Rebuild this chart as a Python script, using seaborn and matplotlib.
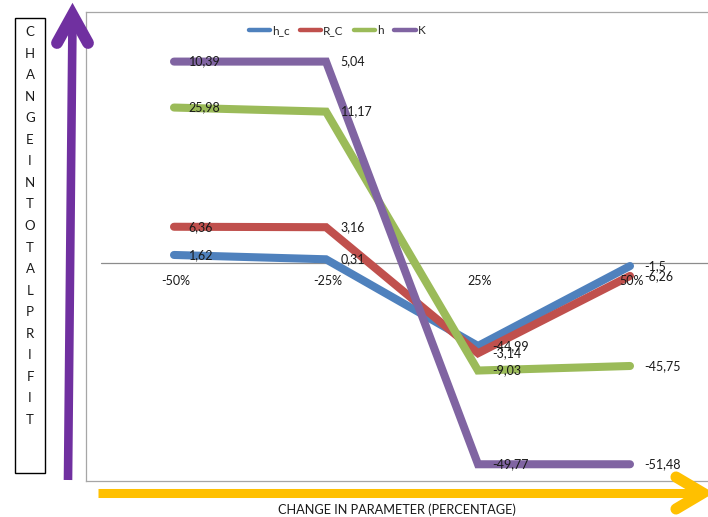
import matplotlib
matplotlib.use("Agg")
import matplotlib.pyplot as plt
from matplotlib.lines import Line2D
from matplotlib.patches import Rectangle
import seaborn as sns
import pandas as pd

# Parameter changes on the category axis
categories = ["-50%", "-25%", "25%", "50%"]

# Plotted change in total profit for each parameter
h_c = [1.7, 0.75, -18.3, -0.73]
R_C = [7.9, 7.8, -19.9, -2.9]
h = [34.1, 33.2, -23.7, -22.7]
K = [44.2, 44.2, -44.3, -44.3]

# Data label texts shown beside each point
h_c_labels = ["1,62", "0,31", "-44,99", "-1,5"]
R_C_labels = ["6,36", "3,16", "-3,14", "-6,26"]
h_labels = ["25,98", "11,17", "-9,03", "-45,75"]
K_labels = ["10,39", "5,04", "-49,77", "-51,48"]

series_names = ["h_c", "R_C", "h", "K"]
series_values = [h_c, R_C, h, K]
series_labels = [h_c_labels, R_C_labels, h_labels, K_labels]
colors = ["#4F81BD", "#C0504D", "#9BBB59", "#8064A2"]

rows = []
for name, vals in zip(series_names, series_values):
    for i, v in enumerate(vals):
        rows.append({"pos": i, "category": categories[i], "series": name, "value": v})
df = pd.DataFrame(rows)

sns.set_theme(style="white")
plt.rcParams["font.family"] = ["Lato", "DejaVu Sans"]

W, H = 708, 517
fig = plt.figure(figsize=(W / 100, H / 100), dpi=100)
fig.patch.set_facecolor("white")


def fx(x):
    return x / W


def fy(y):
    return 1 - y / H


ax = fig.add_axes([fx(86), fy(481), fx(640), (481 - 12) / H])
ax.set_facecolor("white")

sns.lineplot(data=df, x="pos", y="value", hue="series", hue_order=series_names,
             palette=colors, linewidth=5.8, sort=False, legend=False, ax=ax,
             solid_capstyle="round", solid_joinstyle="miter")

px_per_unit = 4.55
ax.set_ylim(-(481 - 262.7) / px_per_unit, (262.7 - 12) / px_per_unit)
ax.set_xlim(-88 / 152, -88 / 152 + 640 / 152)

# horizontal zero axis
ax.plot([-73 / 152, 5], [0, 0], color="#8C8C8C", linewidth=0.9, zorder=1)

for sp in ["left", "top", "bottom"]:
    ax.spines[sp].set_color("#A6A6A6")
    ax.spines[sp].set_linewidth(0.9)
ax.spines["right"].set_visible(False)
ax.set_xticks([])
ax.set_yticks([])
ax.set_xlabel("")
ax.set_ylabel("")

# category labels next to the zero axis
for i, c in enumerate(categories):
    ax.annotate(c, (i, 0), xytext=(1, -13), textcoords="offset points",
                ha="center", va="center", fontsize=9, color="#1a1a1a")

# data labels
for vals, labs in zip(series_values, series_labels):
    for i, (v, t) in enumerate(zip(vals, labs)):
        ax.annotate(t, (i, v), xytext=(10.5, 0), textcoords="offset points",
                    ha="left", va="center", fontsize=9, color="#1a1a1a", zorder=5)

# legend
handles = [Line2D([0], [0], color=c, linewidth=3.2, solid_capstyle="round") for c in colors]
ax.legend(handles, series_names, loc="center", bbox_to_anchor=(fx(337), fy(31)),
          bbox_transform=fig.transFigure, ncol=4, frameon=False, fontsize=8.5,
          handlelength=1.8, handletextpad=0.15, columnspacing=0.9)

# vertical title box
fig.add_artist(Rectangle((fx(15), fy(473)), fx(30), (473 - 18) / H,
                         transform=fig.transFigure, fill=False,
                         edgecolor="black", linewidth=1.0))
letters = "CHANGEINTOTALPRIFIT"
for k, ch in enumerate(letters):
    fig.text(fx(30), fy(32 + k * 21.55), ch, ha="center", va="center",
             fontsize=9.5, color="#1a1a1a")

# purple upward arrow
purple = "#7030A0"
fig.add_artist(Line2D([fx(68), fx(72.5)], [fy(480), fy(20)], color=purple,
                      linewidth=6.2, solid_capstyle="butt", transform=fig.transFigure))
fig.add_artist(Line2D([fx(57), fx(72.5), fx(88)], [fy(43), fy(15), fy(43)], color=purple,
                      linewidth=8.5, solid_capstyle="round", solid_joinstyle="miter",
                      transform=fig.transFigure))

# yellow rightward arrow
yellow = "#FFC000"
fig.add_artist(Line2D([fx(98), fx(700)], [fy(493), fy(493)], color=yellow,
                      linewidth=6.5, solid_capstyle="butt", transform=fig.transFigure))
fig.add_artist(Line2D([fx(676), fx(703), fx(676)], [fy(477), fy(493), fy(509)], color=yellow,
                      linewidth=8, solid_capstyle="round", solid_joinstyle="miter",
                      transform=fig.transFigure))

fig.text(fx(397), fy(510), "CHANGE IN PARAMETER (PERCENTAGE)", ha="center",
         va="center", fontsize=9.2, color="#1a1a1a")

fig.savefig("out.png", dpi=100)
